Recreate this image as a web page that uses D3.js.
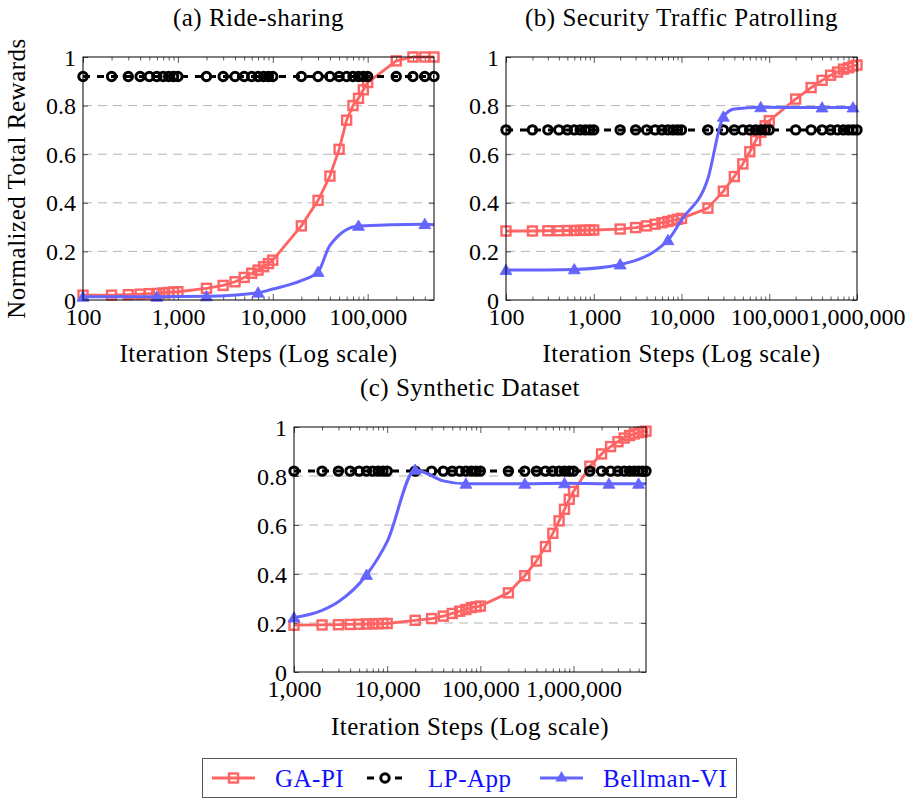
<!DOCTYPE html>
<html><head><meta charset="utf-8">
<script src="https://cdn.jsdelivr.net/npm/d3@7"></script>
<style>body{margin:0;background:#fff} svg{display:block}</style>
</head><body>
<svg id="chart" width="919" height="799"></svg>
<script>
// ---------------- DATA ----------------
const seriesNames = ["GA-PI", "LP-App", "Bellman-VI"];
const yTickValues = [0, 0.2, 0.4, 0.6, 0.8, 1];
const yTickLabels = ["0", "0.2", "0.4", "0.6", "0.8", "1"];

// (a) Ride-sharing
const aTitle = "(a) Ride-sharing";
const aXTicks = [100, 1000, 10000, 100000];
const aX = [100,200,300,400,500,600,700,800,900,1000,2000,3000,4000,5000,6000,7000,8000,9000,
            10000,20000,30000,40000,50000,60000,70000,80000,90000,100000,200000,300000,400000,500000];
const aGA = [0.02,0.02,0.022,0.024,0.026,0.027,0.029,0.031,0.033,0.034,0.048,0.06,0.075,0.093,0.11,0.123,0.137,0.15,
             0.164,0.305,0.41,0.51,0.62,0.74,0.80,0.83,0.865,0.895,0.984,1.0,1.0,1.0];
const aLP = [0.92,0.92,0.92,0.92,0.92,0.92,0.92,0.92,0.92,0.92,0.92,0.92,0.92,0.92,0.92,0.92,0.92,0.92,
             0.92,0.92,0.92,0.92,0.92,0.92,0.92,0.92,0.92,0.92,0.92,0.92,0.92,0.92];
const aBellX = [100, 600, 2000, 7000, 10000, 20000, 30000, 40000, 80000, 400000, 500000];
const aBellY = [0.013, 0.013, 0.015, 0.03, 0.045, 0.08, 0.115, 0.225, 0.305, 0.312, 0.31];
const aBellMark = [true, true, true, true, false, false, true, false, true, true, false];

// (b) Security Traffic Patrolling
const bTitle = "(b) Security Traffic Patrolling";
const bXTicks = [100, 1000, 10000, 100000, 1000000];
const bX = [100,200,300,400,500,600,700,800,900,1000,2000,3000,4000,5000,6000,7000,8000,9000,
            10000,20000,30000,40000,50000,60000,70000,80000,90000,
            100000,200000,300000,400000,500000,600000,700000,800000,900000,1000000];
const bGA = [0.284,0.284,0.285,0.285,0.286,0.286,0.287,0.287,0.288,0.288,0.292,0.298,0.305,0.312,0.318,0.323,0.328,0.332,
             0.336,0.378,0.448,0.508,0.56,0.61,0.656,0.69,0.717,
             0.738,0.827,0.874,0.904,0.925,0.938,0.95,0.956,0.963,0.967];
const bLP = [0.70,0.70,0.70,0.70,0.70,0.70,0.70,0.70,0.70,0.70,0.70,0.70,0.70,0.70,0.70,0.70,0.70,0.70,
             0.70,0.70,0.70,0.70,0.70,0.70,0.70,0.70,0.70,
             0.70,0.70,0.70,0.70,0.70,0.70,0.70,0.70,0.70,0.70];
const bBellX = [100, 600, 2000, 7000, 10000, 20000, 30000, 40000, 80000, 400000, 900000, 1000000];
const bBellY = [0.123, 0.126, 0.146, 0.246, 0.33, 0.5, 0.754, 0.786, 0.793, 0.792, 0.792, 0.792];
const bBellMark = [true, true, true, true, false, false, true, false, true, true, true, false];

// (c) Synthetic Dataset
const cTitle = "(c) Synthetic Dataset";
const cXTicks = [1000, 10000, 100000, 1000000];
const cX = [1000,2000,3000,4000,5000,6000,7000,8000,9000,
            10000,20000,30000,40000,50000,60000,70000,80000,90000,
            100000,200000,300000,400000,500000,600000,700000,800000,900000,
            1000000,1500000,2000000,2500000,3000000,3500000,4000000,4500000,5000000,5500000,6000000];
const cGA = [0.191,0.192,0.193,0.194,0.195,0.196,0.197,0.197,0.198,
             0.198,0.211,0.218,0.228,0.239,0.248,0.255,0.263,0.266,
             0.269,0.323,0.393,0.453,0.512,0.566,0.617,0.664,0.705,
             0.737,0.84,0.89,0.92,0.94,0.955,0.965,0.972,0.977,0.98,0.983];
const cLP = [0.82,0.82,0.82,0.82,0.82,0.82,0.82,0.82,0.82,
             0.82,0.82,0.82,0.82,0.82,0.82,0.82,0.82,0.82,
             0.82,0.82,0.82,0.82,0.82,0.82,0.82,0.82,0.82,
             0.82,0.82,0.82,0.82,0.82,0.82,0.82,0.82,0.82,0.82,0.82];
const cBellX = [1000, 2000, 3000, 6000, 10000, 20000, 40000, 70000, 300000, 800000, 2400000, 5000000, 6000000];
const cBellY = [0.222, 0.252, 0.287, 0.396, 0.532, 0.825, 0.78, 0.768, 0.768, 0.77, 0.768, 0.768, 0.768];
const cBellMark = [true, false, false, true, false, true, false, true, true, true, true, true, false];

const xLabel = "Iteration Steps (Log scale)";
const yLabel = "Normalized Total Rewards";

// ---------------- STYLE / LAYOUT ----------------
const RED = "#ff6464", BLUE = "#6464ff", BLACK = "#000";
const FONT = '"Liberation Serif", serif';
const svg = d3.select("#chart").attr("font-family", FONT);

const panels = [
  {title: aTitle, ticks: aXTicks, domain: [100, 500000], left: 83, right: 434, top: 57, bottom: 300,
   titleY: 26, xLabY: 362, showY: true,
   ga: aX.map((v,i)=>({x:v,y:aGA[i]})), lp: aX.map((v,i)=>({x:v,y:aLP[i]})),
   bell: aBellX.map((v,i)=>({x:v,y:aBellY[i],m:aBellMark[i]}))},
  {title: bTitle, ticks: bXTicks, domain: [100, 1000000], left: 506, right: 857, top: 57, bottom: 300,
   titleY: 26, xLabY: 362, showY: false,
   ga: bX.map((v,i)=>({x:v,y:bGA[i]})), lp: bX.map((v,i)=>({x:v,y:bLP[i]})),
   bell: bBellX.map((v,i)=>({x:v,y:bBellY[i],m:bBellMark[i]}))},
  {title: cTitle, ticks: cXTicks, domain: [1000, 6000000], left: 294, right: 646, top: 427, bottom: 672,
   titleY: 396, xLabY: 735, showY: false,
   ga: cX.map((v,i)=>({x:v,y:cGA[i]})), lp: cX.map((v,i)=>({x:v,y:cLP[i]})),
   bell: cBellX.map((v,i)=>({x:v,y:cBellY[i],m:cBellMark[i]}))}
];

function drawPanel(p) {
  const x = d3.scaleLog().domain(p.domain).range([p.left, p.right]);
  const y = d3.scaleLinear().domain([0, 1]).range([p.bottom, p.top]);
  const g = svg.append("g");

  const minor = [];
  const d0 = Math.floor(Math.log10(p.domain[0])), d1 = Math.ceil(Math.log10(p.domain[1]));
  for (let d = d0; d <= d1; d++) for (let k = 2; k <= 9; k++) {
    const v = k * Math.pow(10, d);
    if (v > p.domain[0] && v < p.domain[1]) minor.push(v);
  }

  g.append("g").selectAll("line").data([0.2, 0.4, 0.6, 0.8]).join("line")
    .attr("x1", p.left).attr("x2", p.right).attr("y1", d => y(d)).attr("y2", d => y(d))
    .attr("stroke", "#b4b4b4").attr("stroke-width", 1).attr("stroke-dasharray", "9,6");

  const tickStyle = sel => { sel.select(".domain").remove(); sel.selectAll("line").attr("stroke", "#333").attr("stroke-width", 0.8); };
  g.append("g").attr("transform", `translate(0,${p.bottom})`)
    .call(d3.axisBottom(x).tickValues(p.ticks).tickSize(-6).tickFormat("")).call(tickStyle);
  g.append("g").attr("transform", `translate(0,${p.bottom})`)
    .call(d3.axisBottom(x).tickValues(minor).tickSize(-3.5).tickFormat("")).call(tickStyle);
  g.append("g").attr("transform", `translate(0,${p.top})`)
    .call(d3.axisTop(x).tickValues(p.ticks).tickSize(-6).tickFormat("")).call(tickStyle);
  g.append("g").attr("transform", `translate(0,${p.top})`)
    .call(d3.axisTop(x).tickValues(minor).tickSize(-3.5).tickFormat("")).call(tickStyle);
  g.append("g").attr("transform", `translate(${p.left},0)`)
    .call(d3.axisLeft(y).tickValues(yTickValues).tickSize(-5).tickFormat("")).call(tickStyle);
  g.append("g").attr("transform", `translate(${p.right},0)`)
    .call(d3.axisRight(y).tickValues(yTickValues).tickSize(-5).tickFormat("")).call(tickStyle);

  const xl = g.append("g").attr("transform", `translate(0,${p.bottom})`)
    .call(d3.axisBottom(x).tickValues(p.ticks).tickSize(0).tickFormat(d3.format(",")));
  xl.attr("font-family", FONT).attr("font-size", 24);
  xl.select(".domain").remove();
  xl.selectAll("text").attr("y", 25).attr("dy", null).attr("font-family", FONT).attr("font-size", 24).attr("fill", "#000");
  const yl = g.append("g").attr("transform", `translate(${p.left},0)`)
    .call(d3.axisLeft(y).tickValues(yTickValues).tickSize(0).tickPadding(7).tickFormat((d,i) => yTickLabels[i]));
  yl.attr("font-family", FONT).attr("font-size", 24);
  yl.select(".domain").remove();
  yl.selectAll("text").attr("font-family", FONT).attr("font-size", 24).attr("dy", "0.34em").attr("fill", "#000");

  const line = d3.line().x(d => x(d.x)).y(d => y(d.y));
  const smooth = d3.line().x(d => x(d.x)).y(d => y(d.y)).curve(d3.curveMonotoneX);

  // GA-PI
  g.append("path").datum(p.ga).attr("d", line).attr("fill", "none")
    .attr("stroke", RED).attr("stroke-width", 2.8).attr("stroke-linejoin", "round");
  g.append("g").selectAll("rect").data(p.ga).join("rect")
    .attr("x", d => x(d.x) - 4.5).attr("y", d => y(d.y) - 4.5).attr("width", 9).attr("height", 9)
    .attr("fill", "none").attr("stroke", RED).attr("stroke-width", 2.4);

  // LP-App
  g.append("path").datum(p.lp).attr("d", line).attr("fill", "none")
    .attr("stroke", BLACK).attr("stroke-width", 3).attr("stroke-dasharray", "7,7");
  g.append("g").selectAll("circle").data(p.lp).join("circle")
    .attr("cx", d => x(d.x)).attr("cy", d => y(d.y)).attr("r", 4.2)
    .attr("fill", "none").attr("stroke", BLACK).attr("stroke-width", 3);

  // Bellman-VI
  g.append("path").datum(p.bell).attr("d", smooth).attr("fill", "none")
    .attr("stroke", BLUE).attr("stroke-width", 3);
  g.append("g").selectAll("path").data(p.bell.filter(d => d.m)).join("path")
    .attr("transform", d => `translate(${x(d.x)},${y(d.y) + 1})`)
    .attr("d", d3.symbol(d3.symbolTriangle, 62)).attr("fill", BLUE).attr("stroke", BLUE).attr("stroke-width", 0.8);

  g.append("rect").attr("x", p.left).attr("y", p.top).attr("width", p.right - p.left).attr("height", p.bottom - p.top)
    .attr("fill", "none").attr("stroke", "#000").attr("stroke-width", 1);

  const cx = (p.left + p.right) / 2;
  g.append("text").attr("x", cx).attr("y", p.titleY).attr("text-anchor", "middle")
    .attr("font-family", FONT).attr("font-size", 25).attr("letter-spacing", 0.5).text(p.title);
  g.append("text").attr("x", cx).attr("y", p.xLabY).attr("text-anchor", "middle")
    .attr("font-family", FONT).attr("font-size", 25).attr("letter-spacing", 0.5).text(xLabel);
  if (p.showY) {
    g.append("text").attr("transform", `translate(25,${(p.top + p.bottom) / 2}) rotate(-90)`)
      .attr("text-anchor", "middle").attr("font-family", FONT).attr("font-size", 25)
      .attr("letter-spacing", 0.5).text(yLabel);
  }
}
panels.forEach(drawPanel);

// ---------------- LEGEND ----------------
const lg = svg.append("g");
lg.append("rect").attr("x", 202.5).attr("y", 758.5).attr("width", 534).attr("height", 39)
  .attr("fill", "#fff").attr("stroke", "#555").attr("stroke-width", 1);
const legendItems = [
  {name: seriesNames[0], x1: 212, x2: 255, tx: 275},
  {name: seriesNames[1], x1: 367, x2: 403, tx: 428},
  {name: seriesNames[2], x1: 540, x2: 583, tx: 603}
];
const ly = 778;
lg.append("line").attr("x1", legendItems[0].x1).attr("x2", legendItems[0].x2).attr("y1", ly).attr("y2", ly)
  .attr("stroke", RED).attr("stroke-width", 2.8);
lg.append("rect").attr("x", (legendItems[0].x1 + legendItems[0].x2) / 2 - 4.5).attr("y", ly - 4.5)
  .attr("width", 9).attr("height", 9).attr("fill", "none").attr("stroke", RED).attr("stroke-width", 2.4);
lg.append("line").attr("x1", legendItems[1].x1).attr("x2", legendItems[1].x2).attr("y1", ly).attr("y2", ly)
  .attr("stroke", BLACK).attr("stroke-width", 3).attr("stroke-dasharray", "7,7");
lg.append("circle").attr("cx", (legendItems[1].x1 + legendItems[1].x2) / 2).attr("cy", ly).attr("r", 4.2)
  .attr("fill", "#fff").attr("stroke", BLACK).attr("stroke-width", 3);
lg.append("line").attr("x1", legendItems[2].x1).attr("x2", legendItems[2].x2).attr("y1", ly).attr("y2", ly)
  .attr("stroke", BLUE).attr("stroke-width", 3);
lg.append("path").attr("transform", `translate(${(legendItems[2].x1 + legendItems[2].x2) / 2},${ly})`)
  .attr("d", d3.symbol(d3.symbolTriangle, 62)).attr("fill", BLUE);
lg.selectAll("text.lt").data(legendItems).join("text").attr("class", "lt")
  .attr("x", d => d.tx).attr("y", ly + 9).attr("font-family", FONT).attr("font-size", 25)
  .attr("letter-spacing", 0.5).attr("fill", "#1010ff").text(d => d.name);
</script>
</body></html>
